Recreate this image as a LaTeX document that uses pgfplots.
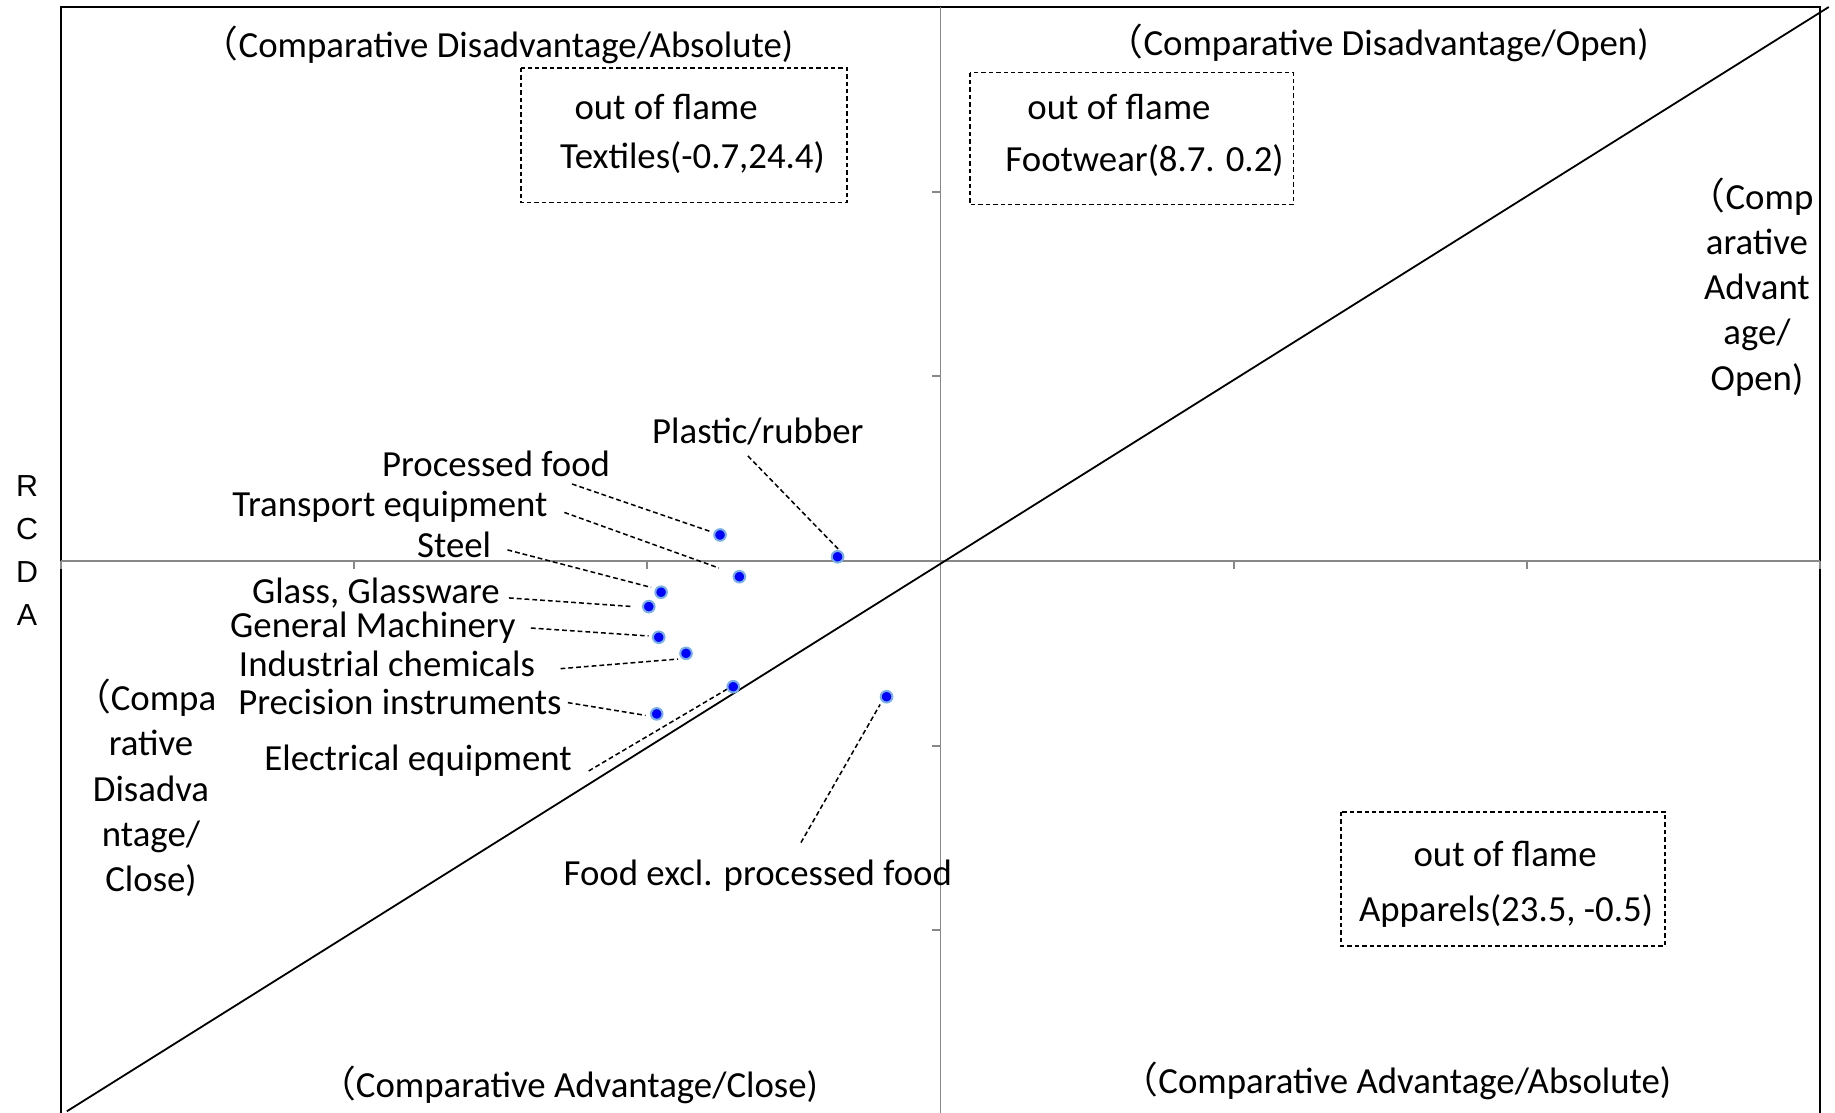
\documentclass[border=0pt]{standalone}
\usepackage{fontspec}
\setmainfont{Carlito}
\newfontfamily\cjk{Noto Sans CJK JP}
\newfontfamily\arial{Liberation Sans}
\usepackage{pgfplots}
\pgfplotsset{compat=1.18}

\definecolor{ptblue}{RGB}{0,0,255}
\definecolor{ptedge}{RGB}{120,175,230}
\definecolor{axgray}{RGB}{136,136,136}

\newcommand\lbl{\fontsize{9.2}{11.3}\selectfont}
% full-width opening bracket, a little narrower than its em box
\newcommand\op{{\cjk\hspace*{-0.32em}（}}

\tikzset{
    lab/.style={font=\lbl, inner sep=0pt},
    quad/.style={font=\lbl, inner sep=0pt, xshift=-1.9pt},
    lead/.style={black, line width=0.38pt, dash pattern=on 1.2pt off 0.75pt},
    box/.style={black, line width=0.38pt, dash pattern=on 1.1pt off 0.75pt},
    tk/.style={axgray, line width=0.45pt},
}

\begin{document}
\begin{tikzpicture}
\useasboundingbox (-15.25pt,0.5pt) rectangle (443.5pt,278.75pt);
\begin{axis}[
    at={(0,0)}, anchor=south west,
    scale only axis,
    width=439.75pt, height=277pt,
    xmin=-3, xmax=3, ymin=-3, ymax=3,
    xtick=\empty, ytick=\empty,
    axis line style={black, line width=0.4pt},
    clip=false,
]

% quadrant cross through the origin
\draw[tk] (axis cs:-3,0) -- (axis cs:3,0);
\draw[tk] (axis cs:0,-3) -- (axis cs:0,3);
\pgfplotsinvokeforeach{-3,-2,-1,1,2,3}{
    \draw[tk] (axis cs:#1,0) -- ([yshift=-1.9pt]axis cs:#1,0);
}
\pgfplotsinvokeforeach{-2,-1,1,2}{
    \draw[tk] (axis cs:0,#1) -- ([xshift=-2pt]axis cs:0,#1);
}

% 45 degree line
\addplot[black, line width=0.45pt] coordinates {(-2.98,-2.98) (3.03,3.0)};

% industries
\addplot[only marks, mark=*, mark size=1.45pt,
    mark options={fill=ptblue, draw=ptedge, line width=0.5pt}] coordinates {
    (-0.752,0.141)   % Processed food
    (-0.351,0.023)   % Plastic/rubber
    (-0.686,-0.085)  % Transport equipment
    (-0.953,-0.169)  % Steel
    (-0.995,-0.247)  % Glass, Glassware
    (-0.961,-0.413)  % General Machinery
    (-0.868,-0.500)  % Industrial chemicals
    (-0.707,-0.681)  % Electrical equipment
    (-0.968,-0.828)  % Precision instruments
    (-0.184,-0.735)  % Food excl. processed food
};

% leader lines
\draw[lead] (axis cs:-0.657,0.569) -- (axis cs:-0.346,0.060);
\draw[lead] (axis cs:-1.257,0.417) -- (axis cs:-0.780,0.157);
\draw[lead] (axis cs:-1.283,0.263) -- (axis cs:-0.756,-0.038);
\draw[lead] (axis cs:-1.477,0.060) -- (axis cs:-0.987,-0.143);
\draw[lead] (axis cs:-1.472,-0.200) -- (axis cs:-1.056,-0.246);
\draw[lead] (axis cs:-1.397,-0.363) -- (axis cs:-0.996,-0.406);
\draw[lead] (axis cs:-1.296,-0.583) -- (axis cs:-0.895,-0.531);
\draw[lead] (axis cs:-1.271,-0.767) -- (axis cs:-1.006,-0.836);
\draw[lead] (axis cs:-1.200,-1.137) -- (axis cs:-0.696,-0.664);
\draw[lead] (axis cs:-0.476,-1.525) -- (axis cs:-0.206,-0.777);

% point labels
\node[lab] at (axis cs:-0.623,0.699) {Plastic/rubber};
\node[lab] at (axis cs:-1.516,0.525) {Processed food};
\node[lab] at (axis cs:-1.878,0.292) {Transport equipment};
\node[lab] at (axis cs:-1.659,0.089) {Steel};
\node[lab] at (axis cs:-1.926,-0.173) {Glass, Glassware};
\node[lab] at (axis cs:-1.936,-0.363) {General Machinery};
\node[lab] at (axis cs:-1.888,-0.558) {Industrial chemicals};
\node[lab] at (axis cs:-1.844,-0.761) {Precision instruments};
\node[lab] at (axis cs:-1.782,-1.083) {Electrical equipment};
\node[lab] at (axis cs:-0.623,-1.703) {Food excl. processed food};

% quadrant names
\node[quad] at (axis cs:-1.465,2.796) {\op Comparative Disadvantage/Absolute)};
\node[quad] at (axis cs:1.537,2.805) {\op Comparative Disadvantage/Open)};
\node[quad] at (axis cs:-1.223,-2.835) {\op Comparative Advantage/Close)};
\node[quad] at (axis cs:1.601,-2.816) {\op Comparative Advantage/Absolute)};
\node[lab, align=center] at (axis cs:2.785,1.484) {\op Comp\\arative\\Advant\\age/\\Open)};
\node[lab, align=center] at (axis cs:-2.693,-1.229) {\op Compa\\rative\\Disadva\\ntage/\\Close)};

% out of frame boxes
\draw[box] (axis cs:-1.431,2.670) rectangle (axis cs:-0.319,1.941);
\node[lab] at (axis cs:-0.936,2.458) {out of flame};
\node[lab] at (axis cs:-0.846,2.187) {Textiles(-0.7,24.4)};

\draw[box] (axis cs:0.100,2.645) rectangle (axis cs:1.204,1.930);
\node[lab] at (axis cs:0.609,2.458) {out of flame};
\node[lab] at (axis cs:0.696,2.168) {Footwear(8.7. 0.2)};

\draw[box] (axis cs:1.366,-1.359) rectangle (axis cs:2.471,-2.085);
\node[lab] at (axis cs:1.926,-1.587) {out of flame};
\node[lab] at (axis cs:1.929,-1.895) {Apparels(23.5, -0.5)};

% vertical axis title
\node[align=center, inner sep=0pt, font=\arial\fontsize{7.6}{10.75}\selectfont]
    at ([xshift=-8.5pt]axis cs:-3,0.057) {R\\C\\D\\A};

\end{axis}
\end{tikzpicture}
\end{document}
